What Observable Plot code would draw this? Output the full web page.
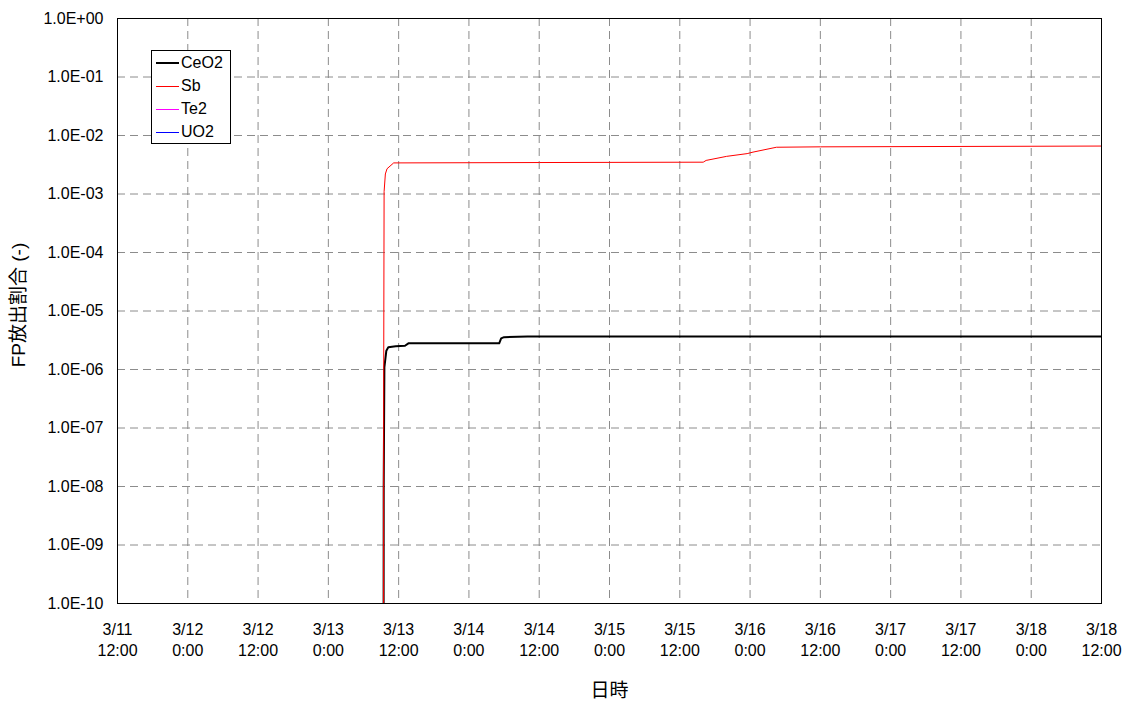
<!DOCTYPE html>
<html>
<head>
<meta charset="utf-8">
<script src="https://cdn.jsdelivr.net/npm/d3@7"></script>
<script src="https://cdn.jsdelivr.net/npm/@observablehq/plot@0.6"></script>
<style>
  html, body { margin: 0; padding: 0; background: #fff; }
  #wrap { position: relative; width: 1127px; height: 708px; font-family: 'Liberation Sans', Arial, 'Noto Sans CJK JP', sans-serif; }
  #legend { position: absolute; left: 151px; top: 50px; width: 80px; height: 94px; border: 1px solid #000; background: #fff; box-sizing: border-box; }
  .swatch { position: absolute; left: 4px; width: 23px; }
  .lab { position: absolute; left: 29px; white-space: nowrap; font-size: 16px; line-height: 20px; height: 20px; color: #000; }
</style>
</head>
<body>
<div id="wrap"><div id="legend"></div></div>
<script>
// ---- data ----
const seriesNames = ["CeO2", "Sb", "Te2", "UO2"];
const seriesColors = ["#000000", "#ff0000", "#ff00ff", "#0000ff"];
const seriesWidths = [2, 1, 1, 1];

const ceo2Times = ["2011-03-13T09:25Z","2011-03-13T09:27Z","2011-03-13T09:34Z","2011-03-13T09:54Z","2011-03-13T10:14Z","2011-03-13T11:30Z","2011-03-13T13:05Z","2011-03-13T13:40Z","2011-03-14T05:10Z","2011-03-14T05:30Z","2011-03-14T06:00Z","2011-03-14T10:00Z","2011-03-18T12:00Z"];
const ceo2Values = [1e-12, 1e-8, 1.1e-6, 2.1e-6, 2.4e-6, 2.5e-6, 2.55e-6, 2.8e-6, 2.8e-6, 3.4e-6, 3.57e-6, 3.65e-6, 3.66e-6];

const sbTimes = ["2011-03-13T09:25Z","2011-03-13T09:27Z","2011-03-13T09:31Z","2011-03-13T09:44Z","2011-03-13T10:01Z","2011-03-13T11:09Z","2011-03-14T12:00Z","2011-03-15T16:00Z","2011-03-15T16:30Z","2011-03-15T20:00Z","2011-03-15T23:30Z","2011-03-16T00:30Z","2011-03-16T04:30Z","2011-03-16T12:00Z","2011-03-18T12:00Z"];
const sbValues = [1e-12, 1e-6, 1.1e-3, 2.2e-3, 2.7e-3, 3.4e-3, 3.45e-3, 3.5e-3, 3.75e-3, 4.4e-3, 4.9e-3, 5.2e-3, 6.3e-3, 6.4e-3, 6.6e-3];

const te2Times = [];
const te2Values = [];
const uo2Times = [];
const uo2Values = [];

const xStart = "2011-03-11T12:00Z";
const xEnd = "2011-03-18T12:00Z";
const yExponents = [0, -1, -2, -3, -4, -5, -6, -7, -8, -9, -10];

const xAxisTitle = "日時";
const yAxisTitle = "FP放出割合 (-)";

// ---- build ----
const toRows = (times, values) => times.map((t, i) => ({t: new Date(t), v: values[i]}));
const series = [
  toRows(ceo2Times, ceo2Values),
  toRows(sbTimes, sbValues),
  toRows(te2Times, te2Values),
  toRows(uo2Times, uo2Values)
];

const x0 = new Date(xStart), x1 = new Date(xEnd);
const xTicks = d3.utcHour.every(12).range(x0, new Date(+x1 + 1));
const yTicks = yExponents.map(e => Math.pow(10, e));

const fmtX = d => `${d.getUTCMonth() + 1}/${d.getUTCDate()}\n${d.getUTCHours()}:${String(d.getUTCMinutes()).padStart(2, "0")}`;
const fmtY = v => {
  const e = Math.round(Math.log10(v));
  return `1.0E${e >= 0 ? "+" : "-"}${String(Math.abs(e)).padStart(2, "0")}`;
};

const gridStyle = {stroke: "#8c8c8c", strokeOpacity: 1, strokeWidth: 1, strokeDasharray: "8,5"};

const lineMarks = series.map((rows, i) => Plot.line(rows, {
  x: "t", y: "v", stroke: seriesColors[i], strokeWidth: seriesWidths[i], clip: true
}));

const chart = Plot.plot({
  width: 1127,
  height: 708,
  marginLeft: 117,
  marginRight: 26,
  marginTop: 18,
  marginBottom: 105,
  style: {fontFamily: "'Liberation Sans', Arial, 'Noto Sans CJK JP', sans-serif", background: "#fff", color: "#000"},
  x: {type: "utc", domain: [x0, x1]},
  y: {type: "log", domain: [1e-10, 1]},
  marks: [
    Plot.gridY(yTicks, gridStyle),
    Plot.gridX(xTicks, gridStyle),
    ...lineMarks,
    Plot.frame({stroke: "#000", strokeWidth: 1}),
    Plot.axisX(xTicks, {tickSize: 0, tickPadding: 17, tickFormat: fmtX, fontSize: 16, lineHeight: 1.3, label: null}),
    Plot.axisY(yTicks, {tickSize: 0, tickPadding: 14, tickFormat: fmtY, fontSize: 16, label: null}),
    Plot.text([yAxisTitle], {text: d => d, frameAnchor: "left", textAnchor: "middle", dx: -99, dy: -6, rotate: -90, fontSize: 19, fill: "#000"}),
    Plot.text([xAxisTitle], {text: d => d, frameAnchor: "bottom", dy: 93, fontSize: 19, fill: "#000"})
  ]
});

const wrap = document.getElementById("wrap");
wrap.insertBefore(chart, wrap.firstChild);

// legend
const legend = document.getElementById("legend");
seriesNames.forEach((name, i) => {
  const cy = Math.round(11.5 + 23.3 * i);
  const sw = document.createElement("div");
  sw.className = "swatch";
  sw.style.height = seriesWidths[i] + "px";
  sw.style.background = seriesColors[i];
  sw.style.top = (cy - Math.floor(seriesWidths[i] / 2)) + "px";
  const lab = document.createElement("div");
  lab.className = "lab";
  lab.textContent = name;
  lab.style.top = (cy - 10) + "px";
  legend.appendChild(sw);
  legend.appendChild(lab);
});
</script>
</body>
</html>
